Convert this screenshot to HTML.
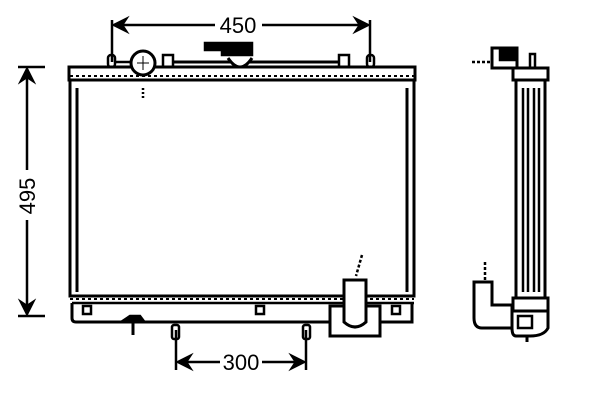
<!DOCTYPE html>
<html><head><style>body{margin:0;background:#fff}svg{display:block}</style></head><body>
<svg width="600" height="400" viewBox="0 0 600 400" xmlns="http://www.w3.org/2000/svg" fill="none" stroke="#000" stroke-width="2.5" font-family="Liberation Sans, sans-serif">
<!-- 450 dim -->
<line x1="112" y1="20" x2="112" y2="62"/><line x1="370" y1="20" x2="370" y2="62"/>
<line x1="114" y1="25" x2="215" y2="25"/><line x1="262" y1="25" x2="368" y2="25"/>
<path d="M114 25 L126 19 L122 25 L126 31Z M368 25 L356 19 L360 25 L356 31Z" fill="#000"/>
<text x="238" y="33" font-size="22" fill="#000" stroke="none" text-anchor="middle">450</text>
<!-- 495 dim -->
<line x1="18" y1="67" x2="45" y2="67"/><line x1="18" y1="316" x2="45" y2="316"/>
<line x1="27" y1="69" x2="27" y2="170"/><line x1="27" y1="220" x2="27" y2="314"/>
<path d="M27 69 L21 81 L27 77 L33 81Z M27 314 L21 302 L27 306 L33 302Z" fill="#000"/>
<text transform="translate(35,196) rotate(-90)" font-size="22" fill="#000" stroke="none" text-anchor="middle">495</text>
<!-- 300 dim -->
<line x1="176" y1="330" x2="176" y2="370"/><line x1="306" y1="330" x2="306" y2="370"/>
<line x1="178" y1="362" x2="220" y2="362"/><line x1="262" y1="362" x2="304" y2="362"/>
<path d="M178 362 L190 356 L186 362 L190 368Z M304 362 L292 356 L296 362 L292 368Z" fill="#000"/>
<text x="241" y="370" font-size="22" fill="#000" stroke="none" text-anchor="middle">300</text>
<!-- top tank -->
<rect x="69" y="67" width="346" height="13" stroke-width="3"/>
<line x1="70" y1="76" x2="414" y2="76" stroke-dasharray="3 3" stroke-width="2"/>
<!-- core frame -->
<rect x="70" y="80" width="344" height="216" stroke-width="3"/>
<line x1="77" y1="88" x2="77" y2="292" stroke-width="3"/><line x1="407" y1="88" x2="407" y2="292" stroke-width="3"/>
<!-- top parts -->
<rect x="108" y="55" width="7" height="12" rx="3"/><rect x="367" y="55" width="7" height="12" rx="3"/>
<line x1="115" y1="62" x2="130" y2="62"/>
<circle cx="143" cy="63" r="12" stroke-width="3" fill="#fff"/>
<line x1="143" y1="56" x2="143" y2="70" stroke-width="1"/><line x1="137" y1="63" x2="149" y2="63" stroke-width="1"/>
<line x1="143" y1="88" x2="143" y2="100" stroke-dasharray="2 2"/>
<rect x="163" y="55" width="10" height="12"/><rect x="339" y="55" width="10" height="12"/>
<line x1="173" y1="62" x2="339" y2="62" stroke-width="3"/>
<path d="M205 43 H252 V55 H222 V50 H205Z" fill="#000"/>
<path d="M228 58 Q240 76 252 58" stroke-width="3" fill="#fff"/>
<!-- bottom tank -->
<line x1="70" y1="296" x2="414" y2="296" stroke-width="3"/>
<line x1="70" y1="299" x2="414" y2="299" stroke-dasharray="3 3" stroke-width="2"/>
<path d="M72 303 V318 Q72 322 76 322 H412 V303" stroke-width="3"/>
<line x1="72" y1="303" x2="414" y2="303"/>
<rect x="83" y="306" width="8" height="8"/><rect x="256" y="306" width="8" height="8"/><rect x="392" y="306" width="8" height="8"/>
<path d="M124 320 L130 316 H140 L143 320Z" fill="#000"/><line x1="133" y1="322" x2="133" y2="335" stroke-width="3"/>
<rect x="172" y="325" width="7" height="14" rx="2"/><rect x="303" y="325" width="7" height="14" rx="2"/>
<!-- outlet bracket -->
<rect x="330" y="306" width="50" height="30" stroke-width="3" fill="#fff"/>
<path d="M344 280 V322 Q355 332 366 322 V280Z" fill="#fff" stroke-width="3"/>
<line x1="362" y1="255" x2="356" y2="276" stroke-dasharray="3 2"/>
<!-- side view -->
<line x1="472" y1="62" x2="492" y2="62" stroke-dasharray="3 2"/>
<rect x="492" y="48" width="25" height="20" fill="#fff" stroke-width="3"/>
<rect x="500" y="50" width="16" height="10" fill="#000"/>
<rect x="530" y="54" width="5" height="14"/>
<rect x="513" y="68" width="35" height="12" stroke-width="3"/>
<rect x="516" y="80" width="29" height="218" stroke-width="3"/>
<line x1="523" y1="88" x2="523" y2="292"/><line x1="528" y1="88" x2="528" y2="292"/>
<line x1="534" y1="88" x2="534" y2="292"/><line x1="539" y1="88" x2="539" y2="292"/>
<line x1="485" y1="262" x2="485" y2="280" stroke-dasharray="3 2"/>
<path d="M474 282 H492 V305 H512 V328 H482 Q474 328 474 318Z" stroke-width="3"/>
<rect x="513" y="298" width="35" height="13" stroke-width="3"/>
<path d="M512 311 H548 V328 Q544 336 530 336 H516 Q512 336 512 328Z" stroke-width="3"/>
<rect x="518" y="316" width="14" height="12"/>
<line x1="527" y1="336" x2="527" y2="342" stroke-width="3"/>
</svg>
</body></html>
